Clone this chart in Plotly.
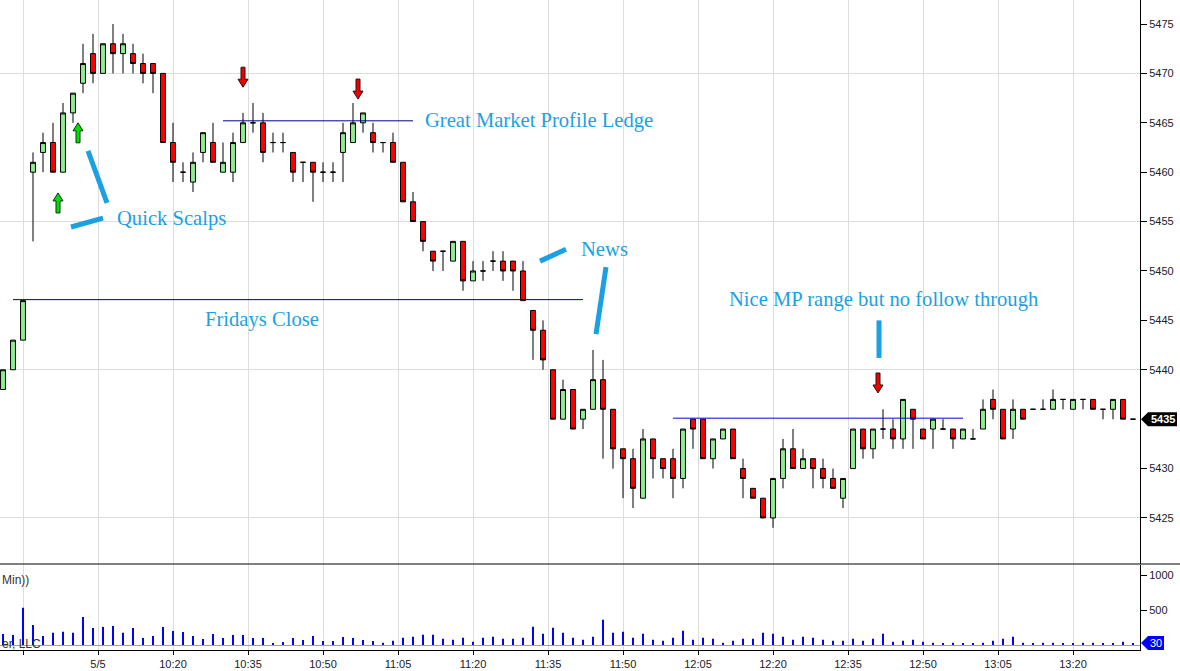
"""
ES 2-minute bars for 5/5 with hand-drawn trade notes (Market Profile ledge, Friday's close).
"""
import pandas as pd
import plotly.graph_objects as go

SESSION_START = "2024-05-06 09:46"
BAR_MINUTES = 2

OPEN = [5438, 5440, 5443, 5460, 5462, 5463, 5460, 5466, 5469, 5472,
        5470, 5473, 5472, 5472, 5471, 5471, 5470, 5463, 5460, 5459,
        5462, 5463, 5460, 5460, 5463, 5465, 5465, 5463, 5463, 5462,
        5461, 5461, 5460, 5460, 5462, 5463, 5465, 5464, 5463, 5463,
        5461, 5457, 5455, 5452, 5452, 5451, 5453, 5449, 5450, 5451,
        5451, 5451, 5450, 5446, 5444, 5440, 5435, 5438, 5435, 5436,
        5439, 5436, 5432, 5431, 5427, 5433, 5431, 5431, 5429, 5435,
        5435, 5431, 5433, 5434, 5430, 5428, 5427, 5425, 5429, 5432,
        5430, 5431, 5430, 5429, 5427, 5430, 5434, 5432, 5434, 5434,
        5433, 5436, 5434, 5434, 5434, 5434, 5433, 5433, 5434, 5437,
        5436, 5434, 5436, 5436, 5436, 5436, 5437, 5436, 5437, 5437,
        5436, 5436, 5437, 5435]
HIGH = [5440, 5443, 5447, 5462, 5464, 5465, 5467, 5468, 5473, 5474,
        5473, 5475, 5474, 5473, 5472, 5471, 5470, 5465, 5461, 5462,
        5464, 5465, 5463, 5464, 5466, 5467, 5466, 5464, 5464, 5462,
        5461, 5461, 5461, 5461, 5465, 5467, 5466, 5465, 5463, 5464,
        5461, 5458, 5455, 5452, 5452, 5453, 5453, 5451, 5451, 5452,
        5452, 5451, 5451, 5446, 5445, 5440, 5439, 5438, 5436, 5442,
        5441, 5436, 5432, 5432, 5434, 5433, 5431, 5432, 5434, 5435,
        5435, 5433, 5434, 5434, 5431, 5428, 5427, 5429, 5433, 5434,
        5432, 5431, 5431, 5430, 5429, 5434, 5434, 5434, 5436, 5435,
        5437, 5436, 5434, 5435, 5435, 5434, 5434, 5434, 5437, 5438,
        5436, 5437, 5436, 5436, 5437, 5438, 5437, 5437, 5437, 5437,
        5436, 5437, 5437, 5435]
LOW = [5438, 5440, 5443, 5453, 5460, 5460, 5460, 5465, 5468, 5469,
       5470, 5470, 5470, 5470, 5469, 5468, 5463, 5459, 5459, 5458,
       5461, 5461, 5460, 5459, 5463, 5464, 5461, 5462, 5462, 5459,
       5459, 5457, 5459, 5459, 5459, 5463, 5464, 5462, 5462, 5461,
       5457, 5455, 5452, 5450, 5450, 5451, 5448, 5449, 5449, 5450,
       5449, 5448, 5447, 5441, 5440, 5435, 5435, 5434, 5434, 5436,
       5431, 5430, 5427, 5426, 5427, 5429, 5429, 5427, 5428, 5432,
       5431, 5430, 5433, 5431, 5427, 5427, 5425, 5424, 5428, 5430,
       5430, 5428, 5428, 5428, 5426, 5430, 5431, 5431, 5433, 5432,
       5432, 5432, 5433, 5432, 5434, 5432, 5433, 5433, 5434, 5435,
       5433, 5433, 5435, 5436, 5436, 5436, 5436, 5436, 5436, 5436,
       5435, 5435, 5435, 5435]
CLOSE = [5440, 5443, 5447, 5461, 5463, 5460, 5466, 5468, 5471, 5470,
         5473, 5472, 5473, 5471, 5470, 5470, 5463, 5461, 5460, 5461,
         5464, 5461, 5461, 5463, 5465, 5465, 5462, 5463, 5463, 5460,
         5461, 5460, 5460, 5460, 5464, 5465, 5466, 5463, 5463, 5461,
         5457, 5455, 5453, 5451, 5452, 5453, 5449, 5450, 5450, 5451,
         5450, 5450, 5447, 5444, 5441, 5435, 5438, 5434, 5436, 5439,
         5436, 5432, 5431, 5428, 5433, 5431, 5430, 5429, 5434, 5434,
         5431, 5433, 5434, 5431, 5429, 5427, 5425, 5429, 5432, 5430,
         5431, 5430, 5429, 5428, 5429, 5434, 5432, 5434, 5434, 5433,
         5437, 5435, 5433, 5435, 5434, 5433, 5434, 5433, 5436, 5436,
         5433, 5436, 5435, 5436, 5436, 5437, 5437, 5437, 5437, 5436,
         5436, 5437, 5435, 5435]
VOLUME = [157, 143, 533, 286, 129, 176, 190, 176, 400, 243,
          257, 271, 176, 243, 100, 129, 257, 200, 186, 129,
          86, 157, 100, 143, 143, 100, 100, 29, 43, 100,
          71, 129, 57, 57, 114, 100, 71, 57, 33, 60,
          105, 119, 148, 148, 90, 76, 105, 48, 105, 119,
          90, 90, 105, 262, 162, 248, 176, 105, 76, 119,
          362, 176, 190, 105, 162, 76, 62, 105, 205, 76,
          105, 90, 33, 62, 90, 90, 176, 162, 119, 76,
          119, 105, 76, 62, 62, 90, 62, 90, 162, 48,
          62, 76, 48, 33, 19, 33, 19, 19, 33, 62,
          90, 119, 33, 19, 33, 33, 19, 19, 33, 33,
          19, 19, 48, 30]

TICK_TIMES = ["09:50", "10:05", "10:20", "10:35", "10:50", "11:05", "11:20",
              "11:35", "11:50", "12:05", "12:20", "12:35", "12:50", "13:05", "13:20"]
TICK_TEXT = ["", "5/5", "10:20", "10:35", "10:50", "11:05", "11:20",
             "11:35", "11:50", "12:05", "12:20", "12:35", "12:50", "13:05", "13:20"]
PRICE_TICKS = [5425, 5430, 5440, 5445, 5450, 5455, 5460, 5465, 5470, 5475]  # 5435 sits under the last-price flag
PRICE_GRID = [5425, 5440, 5455, 5470]
VOLUME_TICKS = [500, 1000]

# drawn levels: price, first bar, last bar, colour
LEVEL_PRICE = [5465.2, 5447.1, 5435.1]
LEVEL_FROM = [22, 1, 67]
LEVEL_TO = [41, 58, 96]
LEVEL_COLOR = ["#00008b", "#00008b", "#0000ee"]

# notes (left edge at bar position)
NOTE_TEXT = ["Quick Scalps", "Great Market Profile Ledge", "News",
             "Fridays Close", "Nice MP range but no follow through"]
NOTE_BAR = [11.2, 42.0, 57.6, 20.0, 72.4]
NOTE_PRICE = [5455.3, 5465.2, 5452.2, 5445.1, 5447.1]

# hand-drawn pointer strokes: bar0, price0, bar1, price1
STROKES = [(8.5, 5462.15, 10.4, 5456.9),
           (6.8, 5454.45, 10.0, 5455.35),
           (53.7, 5451.0, 56.3, 5452.2),
           (60.3, 5450.4, 59.3, 5443.6),
           (87.6, 5445.0, 87.6, 5441.2)]

# entry arrows (tip position)
UP_BAR = [5.5, 7.5]
UP_PRICE = [5457.9, 5465.0]
DOWN_BAR = [24, 35.5, 87.5]
DOWN_PRICE = [5468.6, 5467.4, 5437.65]

NOTE_BLUE = "#1ba1e2"
GRID = "#dddddd"
T0 = pd.Timestamp(SESSION_START)


def at(bar):
    return T0 + pd.Timedelta(minutes=BAR_MINUTES * bar)


times = [at(i) for i in range(len(CLOSE))]
tick_x = [pd.Timestamp(SESSION_START[:11] + t) for t in TICK_TIMES]

x_range = [at(-0.3), at(113.7)]
y_range = [5420.34, 5477.43]
v_range = [-71.4, 1142.9]
PRICE_BOTTOM = 86 / 650
VOL_TOP = 85 / 650

fig = go.Figure()

fig.add_trace(go.Candlestick(
    x=times, open=OPEN, high=HIGH, low=LOW, close=CLOSE,
    xaxis="x", yaxis="y",
    increasing=dict(fillcolor="#90ee90", line=dict(color="black", width=1)),
    decreasing=dict(fillcolor="#ff0000", line=dict(color="black", width=1)),
    whiskerwidth=0, showlegend=False, hoverinfo="skip",
))

for p, a, b, c in zip(LEVEL_PRICE, LEVEL_FROM, LEVEL_TO, LEVEL_COLOR):
    fig.add_trace(go.Scatter(
        x=[at(a), at(b)], y=[p, p], mode="lines",
        line=dict(color=c, width=1),
        xaxis="x", yaxis="y3", showlegend=False, hoverinfo="skip",
    ))

fig.add_trace(go.Bar(
    x=times, y=VOLUME, xaxis="x2", yaxis="y2",
    marker=dict(color="#0000ff", line=dict(width=0)),
    width=24000, showlegend=False, hoverinfo="skip",
))

shapes = []
for b0, p0, b1, p1 in STROKES:
    shapes.append(dict(type="line", xref="x", yref="y", x0=at(b0), y0=p0, x1=at(b1), y1=p1,
                       line=dict(color=NOTE_BLUE, width=5)))

UP_PATH = "M 0 0 L -5 -8 L -2 -8 L -2 -20 L 2 -20 L 2 -8 L 5 -8 Z"
DOWN_PATH = "M 0 0 L -5 8 L -2 8 L -2 20 L 2 20 L 2 8 L 5 8 Z"
for b, p in zip(UP_BAR, UP_PRICE):
    shapes.append(dict(type="path", xref="x", yref="y", xsizemode="pixel", ysizemode="pixel",
                       xanchor=at(b), yanchor=p, path=UP_PATH,
                       fillcolor="#00e000", line=dict(color="#103010", width=1)))
for b, p in zip(DOWN_BAR, DOWN_PRICE):
    shapes.append(dict(type="path", xref="x", yref="y", xsizemode="pixel", ysizemode="pixel",
                       xanchor=at(b), yanchor=p, path=DOWN_PATH,
                       fillcolor="#ee0000", line=dict(color="#301010", width=1)))

# panel separator runs into the label margin
shapes.append(dict(type="line", xref="paper", yref="paper", x0=0, x1=1180 / 1140,
                   y0=PRICE_BOTTOM, y1=PRICE_BOTTOM, line=dict(color="black", width=1)))

# last-value flags on the right axis
shapes.append(dict(type="path", xref="paper", yref="y", xsizemode="pixel", ysizemode="pixel",
                   xanchor=1, yanchor=CLOSE[-1], path="M 1 0 L 8 7 L 37 7 L 37 -7 L 8 -7 Z",
                   fillcolor="black", line=dict(width=0)))
shapes.append(dict(type="path", xref="paper", yref="y2", xsizemode="pixel", ysizemode="pixel",
                   xanchor=1, yanchor=VOLUME[-1], path="M 1 0 L 8 7 L 24 7 L 24 -7 L 8 -7 Z",
                   fillcolor="#0000ff", line=dict(width=0)))

annotations = []
for t, b, p in zip(NOTE_TEXT, NOTE_BAR, NOTE_PRICE):
    annotations.append(dict(text=t, xref="x", yref="y", x=at(b), y=p, xanchor="left",
                            yanchor="middle", showarrow=False,
                            font=dict(family="Liberation Serif, Times New Roman, serif",
                                      size=20.6, color=NOTE_BLUE)))
annotations.append(dict(text="<b>%d</b>" % CLOSE[-1], xref="paper", yref="y", x=1, xshift=23,
                        xanchor="center", yanchor="middle",
                        y=CLOSE[-1], showarrow=False, font=dict(color="white", size=11)))
annotations.append(dict(text="%d" % VOLUME[-1], xref="paper", yref="y2", x=1, xshift=16,
                        xanchor="center", yanchor="middle",
                        y=VOLUME[-1], showarrow=False, font=dict(color="white", size=11)))
annotations.append(dict(text="Min))", xref="paper", yref="paper", x=0, y=70 / 650,
                        xanchor="left", yanchor="middle", showarrow=False,
                        font=dict(size=12, color="#333333")))
annotations.append(dict(text="er, LLC", xref="paper", yref="paper", x=0, y=6 / 650,
                        xanchor="left", yanchor="middle", showarrow=False,
                        font=dict(size=12, color="#333333")))

fig.update_layout(
    width=1180, height=671,
    margin=dict(l=0, r=40, t=0, b=21),
    paper_bgcolor="white", plot_bgcolor="white",
    showlegend=False, hovermode=False,
    font=dict(family="Liberation Sans, Arial, sans-serif", size=11, color="#202028"),
    xaxis=dict(domain=[0, 1], anchor="y", range=x_range, tickvals=tick_x,
               showticklabels=False, ticks="", showgrid=True, gridcolor=GRID,
               zeroline=False, showline=False, rangeslider=dict(visible=False)),
    xaxis2=dict(domain=[0, 1], anchor="y2", range=x_range, tickvals=tick_x, ticktext=TICK_TEXT,
                ticks="outside", ticklen=4, tickcolor="black", showgrid=True, gridcolor=GRID,
                showline=True, linecolor="black", linewidth=1, zeroline=False),
    yaxis=dict(domain=[PRICE_BOTTOM, 1], anchor="x", side="right", range=y_range,
               tickvals=PRICE_TICKS, ticks="outside", ticklen=6, tickcolor="black",
               showline=True, linecolor="black", showgrid=False, zeroline=False),
    yaxis3=dict(overlaying="y", side="right", range=y_range, tickvals=PRICE_GRID,
                showgrid=True, gridcolor=GRID, showticklabels=False, ticks="",
                showline=False, zeroline=False),
    yaxis2=dict(domain=[0, VOL_TOP], anchor="x2", side="right", range=v_range,
                tickvals=VOLUME_TICKS, ticks="outside", ticklen=6, tickcolor="black",
                showline=True, linecolor="black", showgrid=False,
                zeroline=True, zerolinecolor="#a0a0a0", zerolinewidth=1),
    shapes=shapes,
    annotations=annotations,
)

# the page's default 8px body margin would push the chart off its edges
fig.write_html("out.html", config={"displayModeBar": False},
               post_script="document.body.style.margin = '0';")
